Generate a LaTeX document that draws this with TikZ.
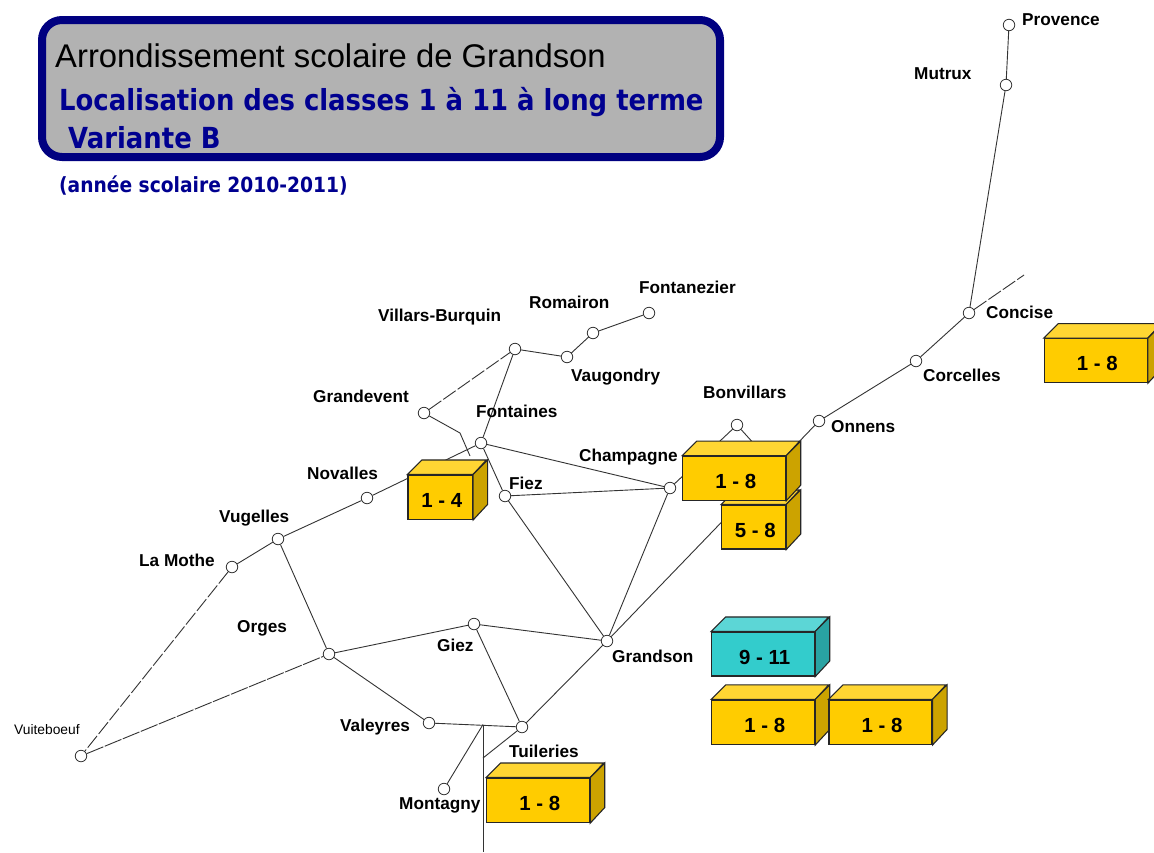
\documentclass[tikz,border=0pt]{standalone}
\usepackage{fontspec}
\setmainfont{Liberation Sans}
\newfontfamily\titlefont[FakeStretch=0.893]{DejaVu Sans}
\definecolor{navyb}{HTML}{000080}
\definecolor{titleb}{HTML}{000090}
\definecolor{panel}{HTML}{B2B2B2}
\definecolor{linec}{HTML}{333333}
\definecolor{yfront}{HTML}{FFCC00}
\definecolor{ytop}{HTML}{FFD633}
\definecolor{yside}{HTML}{CCA300}
\definecolor{tfront}{HTML}{33CCCC}
\definecolor{ttop}{HTML}{5CD6D6}
\definecolor{tside}{HTML}{29A3A3}
\tikzset{
  stop/.style={circle,draw=linec,fill=white,line width=0.8pt,minimum size=11.5pt,inner sep=0pt},
  lbl/.style={anchor=base west,inner sep=0pt,font=\fontsize{17.2}{17}\selectfont\bfseries},
  road/.style={draw=linec,line width=0.9pt},
  dashroad/.style={road,dash pattern=on 15pt off 2.5pt},
  longdashroad/.style={road,dash pattern=on 18pt off 1.5pt},
  cubefront/.style={rectangle,draw=black!85,line width=1.1pt,inner sep=0pt,text height=20.2pt,text depth=0pt,font=\fontsize{20.4}{20}\selectfont\bfseries},
  titleline/.style={anchor=base west,inner sep=0pt,text=titleb}
}
% name, centre x, centre y, width, height, colour prefix, text
\newcommand{\classcube}[7]{%
  \node[cubefront,fill=#6front,minimum width=#4pt,minimum height=#5pt] (#1) at (#2,#3) {\kern3pt#7};
  \draw[black!85,line width=1.1pt,fill=#6top] (#1.north west) -- ++(14.5,-14.5) -- ++(#4,0) -- (#1.north east) -- cycle;
  \draw[black!85,line width=1.1pt,fill=#6side] (#1.north east) -- ++(14.5,-14.5) -- ++(0,#5) -- (#1.south east) -- cycle;
}
\begin{document}
\begin{tikzpicture}[x=1pt,y=-1pt]
\clip (0,0) rectangle (1154,852);
\fill[white] (0,0) rectangle (1154,852);
% Title panel
\node[draw=navyb,fill=panel,line width=8pt,rounded corners=20pt,minimum width=678pt,minimum height=137pt,inner sep=0pt] (panel) at (381,88.5) {};
\node[anchor=base west,inner sep=0pt,font=\fontsize{32.8}{33}\selectfont] (t1) at (55,67) {Arrondissement scolaire de Grandson};
\node[titleline,font=\titlefont\bfseries\fontsize{29}{30}\selectfont] (t2) at (59,110) {Localisation des classes 1 à 11 à long terme};
\node[titleline,font=\titlefont\bfseries\fontsize{29}{30}\selectfont] (t3) at (68,148) {Variante B};
\node[titleline,font=\titlefont\bfseries\fontsize{20.9}{21}\selectfont] (t4) at (59,192) {(année scolaire 2010-2011)};
% Free ends and junctions
\coordinate (cEnd) at (1024,275);
\coordinate (bvJ) at (775,467);
\coordinate (gvA) at (460,433);
\coordinate (gvB) at (470,456);
\coordinate (vtJ) at (483,724.5);
\coordinate (vTop) at (483,724.5);
\coordinate (vBot) at (483,852);
\coordinate (tuJ) at (483,758);
% Stops
\node[stop] (provence) at (1009,25) {};
\node[stop] (mutrux) at (1006,85) {};
\node[stop] (concise) at (969,313) {};
\node[stop] (corcelles) at (916,361) {};
\node[stop] (onnens) at (819,421) {};
\node[stop] (champagne) at (670,488) {};
\node[stop] (bonvillars) at (737,425) {};
\node[stop] (fontaines) at (481,443) {};
\node[stop] (fiez) at (505,496) {};
\node[stop] (villars) at (515,349) {};
\node[stop] (vaugondry) at (567,357) {};
\node[stop] (romairon) at (593,333) {};
\node[stop] (fontanezier) at (649,313) {};
\node[stop] (grandevent) at (424,413) {};
\node[stop] (novalles) at (367,498) {};
\node[stop] (vugelles) at (278,539) {};
\node[stop] (lamothe) at (232,567) {};
\node[stop] (orges) at (329,654) {};
\node[stop] (giez) at (474,624) {};
\node[stop] (grandson) at (607,641) {};
\node[stop] (valeyres) at (429,723) {};
\node[stop] (tuileries) at (522,727) {};
\node[stop] (montagny) at (444,789) {};
\node[stop] (vuiteboeuf) at (81,756) {};
% Roads
\draw[road] (provence) -- (mutrux);
\draw[road] (mutrux) -- (concise);
\draw[dashroad] (concise) -- (cEnd);
\draw[road] (concise) -- (corcelles);
\draw[road] (corcelles) -- (onnens);
\draw[road] (onnens) -- (grandson);
\draw[road] (champagne) -- (bonvillars);
\draw[road] (bonvillars) -- (bvJ);
\draw[road] (fontaines) -- (champagne);
\draw[road] (fontaines) -- (fiez);
\draw[road] (fontaines) -- (villars);
\draw[road] (fontaines) -- (novalles);
\draw[road] (fiez) -- (champagne);
\draw[road] (fiez) -- (grandson);
\draw[road] (champagne) -- (grandson);
\draw[road] (villars) -- (vaugondry);
\draw[road] (vaugondry) -- (romairon);
\draw[road] (romairon) -- (fontanezier);
\draw[dashroad] (grandevent) -- (villars);
\draw[road] (grandevent) -- (gvA) -- (gvB);
\draw[road] (novalles) -- (vugelles);
\draw[road] (vugelles) -- (lamothe);
\draw[road] (vugelles) -- (orges);
\draw[dashroad] (lamothe) -- (vuiteboeuf);
\draw[longdashroad] (vuiteboeuf) -- (orges);
\draw[road] (orges) -- (giez);
\draw[road] (giez) -- (grandson);
\draw[road] (orges) -- (valeyres);
\draw[road] (valeyres) -- (tuileries);
\draw[road] (giez) -- (tuileries);
\draw[road] (tuileries) -- (grandson);
\draw[road] (montagny) -- (vtJ);
\draw[road] (vTop) -- (vBot);
\draw[road] (tuileries) -- (tuJ);
% Cubes
\classcube{c14}{440.25}{497.25}{64.5}{44.5}{y}{1 - 4}
\classcube{c58}{753.7}{527}{64}{44}{y}{5 - 8}
\classcube{c18a}{734.2}{478.2}{103}{44}{y}{1 - 8}
\classcube{c18b}{1095.8}{360.7}{103}{44}{y}{1 - 8}
\classcube{c911}{763.2}{654}{103}{44}{t}{9 - 11}
\classcube{c18c}{763.2}{722.2}{103}{44.5}{y}{1 - 8}
\classcube{c18d}{880.5}{722.2}{103}{44.5}{y}{1 - 8}
\classcube{c18e}{538.2}{800.3}{103}{44.5}{y}{1 - 8}
% Labels
\node[lbl] (lprovence) at (1022,25) {Provence};
\node[lbl] (lmutrux) at (914,79) {Mutrux};
\node[lbl] (lconcise) at (986,318) {Concise};
\node[lbl] (lcorcelles) at (923,381) {Corcelles};
\node[lbl] (lonnens) at (831,432) {Onnens};
\node[lbl] (lbonvillars) at (703,398) {Bonvillars};
\node[lbl] (lchampagne) at (579,461) {Champagne};
\node[lbl] (lfontaines) at (476,417) {Fontaines};
\node[lbl] (lfiez) at (509,489) {Fiez};
\node[lbl] (lfontanezier) at (639,293) {Fontanezier};
\node[lbl] (lromairon) at (529,308) {Romairon};
\node[lbl] (lvillars) at (378,321) {Villars-Burquin};
\node[lbl] (lvaugondry) at (571,381) {Vaugondry};
\node[lbl] (lgrandevent) at (313,402) {Grandevent};
\node[lbl] (lnovalles) at (307,479) {Novalles};
\node[lbl] (lvugelles) at (219,522) {Vugelles};
\node[lbl] (llamothe) at (139,566) {La Mothe};
\node[lbl] (lorges) at (237,632) {Orges};
\node[lbl] (lgiez) at (437,651) {Giez};
\node[lbl] (lgrandson) at (612,662) {Grandson};
\node[lbl] (lvaleyres) at (340,731) {Valeyres};
\node[lbl] (ltuileries) at (509,757) {Tuileries};
\node[lbl] (lmontagny) at (399,809) {Montagny};
\node[anchor=base west,inner sep=0pt,font=\fontsize{13.8}{14}\selectfont] (lvuiteboeuf) at (14,734) {Vuiteboeuf};
\end{tikzpicture}
\end{document}
